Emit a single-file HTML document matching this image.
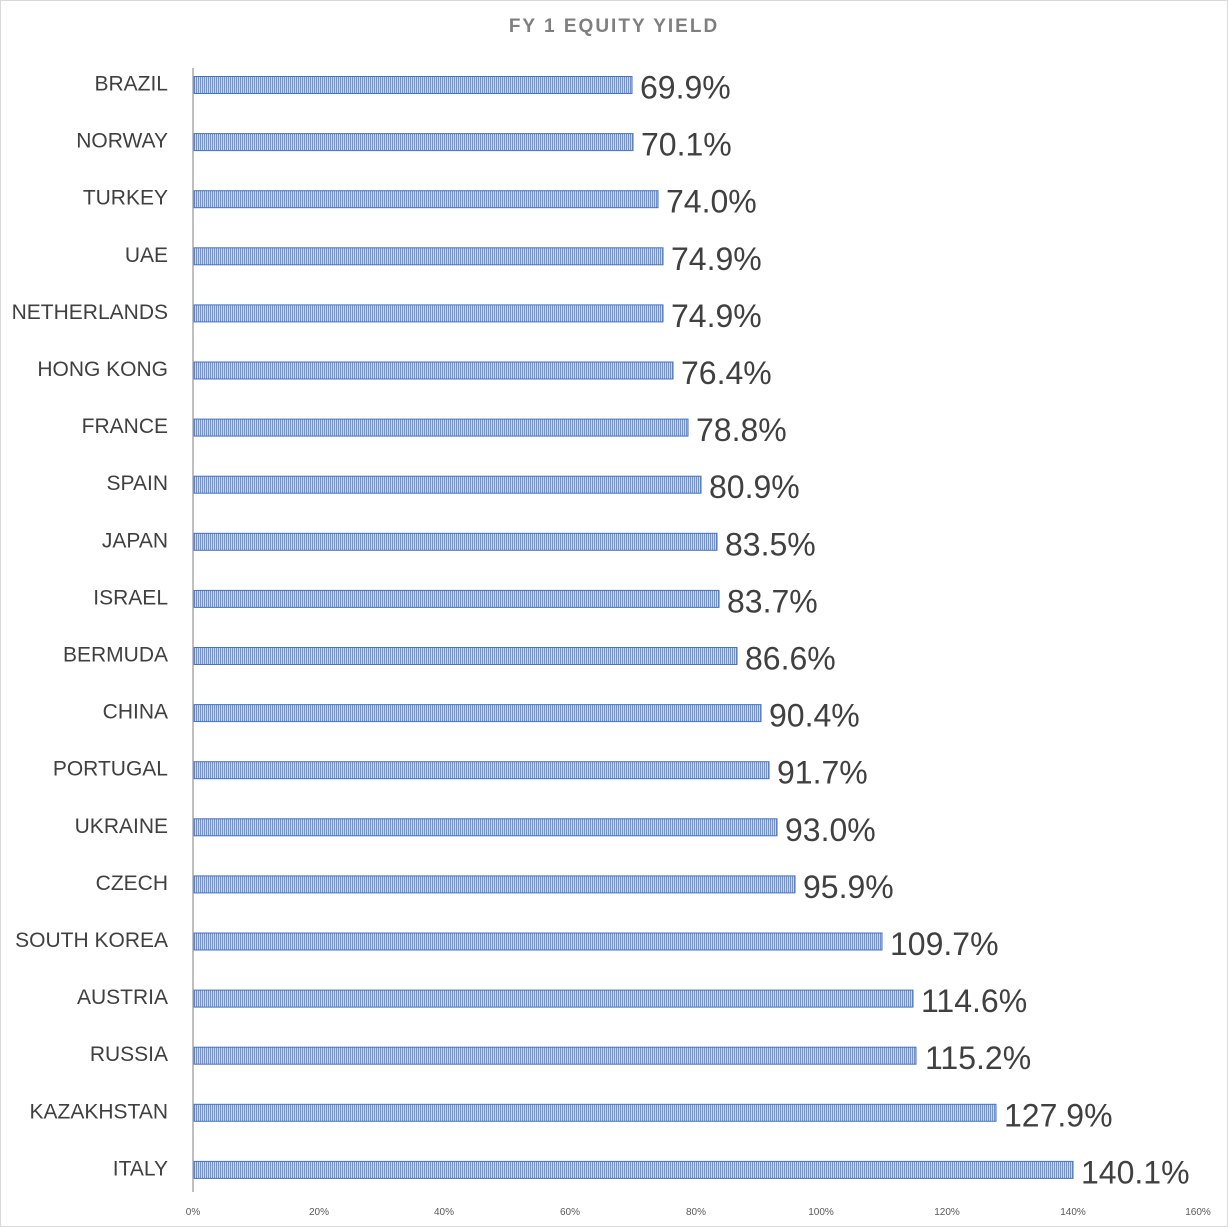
<!DOCTYPE html>
<html><head><meta charset="utf-8"><style>html,body{margin:0;padding:0;background:#fff}svg{display:block}</style></head>
<body>
<svg width="1228" height="1228" xmlns="http://www.w3.org/2000/svg" font-family="Liberation Sans, sans-serif">
<defs><pattern id="p" width="2" height="4" patternUnits="userSpaceOnUse"><rect width="2" height="4" fill="#c8d7f0"/><rect width="1" height="4" fill="#6b93d6"/></pattern></defs>
<rect x="0.5" y="0.5" width="1227" height="1226" fill="#fff" stroke="#d9d9d9"/>
<text x="614" y="32" text-anchor="middle" font-size="19" font-weight="bold" fill="#7f7f7f" letter-spacing="2">FY 1 EQUITY YIELD</text>
<line x1="193" y1="68" x2="193" y2="1192" stroke="#bfbfbf" stroke-width="2"/>
<g fill="url(#p)" stroke="#4472c4" stroke-width="1">
<rect x="194" y="76.5" width="438" height="17"/>
<rect x="194" y="133.6" width="439" height="17"/>
<rect x="194" y="190.7" width="464" height="17"/>
<rect x="194" y="247.8" width="469" height="17"/>
<rect x="194" y="304.9" width="469" height="17"/>
<rect x="194" y="362" width="479" height="17"/>
<rect x="194" y="419.1" width="494" height="17"/>
<rect x="194" y="476.2" width="507" height="17"/>
<rect x="194" y="533.3" width="523" height="17"/>
<rect x="194" y="590.4" width="525" height="17"/>
<rect x="194" y="647.5" width="543" height="17"/>
<rect x="194" y="704.6" width="567" height="17"/>
<rect x="194" y="761.7" width="575" height="17"/>
<rect x="194" y="818.8" width="583" height="17"/>
<rect x="194" y="875.9" width="601" height="17"/>
<rect x="194" y="933" width="688" height="17"/>
<rect x="194" y="990.1" width="719" height="17"/>
<rect x="194" y="1047.2" width="722" height="17"/>
<rect x="194" y="1104.3" width="802" height="17"/>
<rect x="194" y="1161.4" width="879" height="17"/>
</g>
<g font-size="21" fill="#404040" text-anchor="end" transform="translate(0,-2)">
<text x="168" y="92.5">BRAZIL</text>
<text x="168" y="149.6">NORWAY</text>
<text x="168" y="206.7">TURKEY</text>
<text x="168" y="263.8">UAE</text>
<text x="168" y="320.9">NETHERLANDS</text>
<text x="168" y="378">HONG KONG</text>
<text x="168" y="435.1">FRANCE</text>
<text x="168" y="492.2">SPAIN</text>
<text x="168" y="549.3">JAPAN</text>
<text x="168" y="606.4">ISRAEL</text>
<text x="168" y="663.5">BERMUDA</text>
<text x="168" y="720.6">CHINA</text>
<text x="168" y="777.7">PORTUGAL</text>
<text x="168" y="834.8">UKRAINE</text>
<text x="168" y="891.9">CZECH</text>
<text x="168" y="949">SOUTH KOREA</text>
<text x="168" y="1006.1">AUSTRIA</text>
<text x="168" y="1063.2">RUSSIA</text>
<text x="168" y="1120.3">KAZAKHSTAN</text>
<text x="168" y="1177.4">ITALY</text>
</g>
<g font-size="32" fill="#404040">
<text x="640" y="98.5">69.9%</text>
<text x="641" y="155.6">70.1%</text>
<text x="666" y="212.7">74.0%</text>
<text x="671" y="269.8">74.9%</text>
<text x="671" y="326.9">74.9%</text>
<text x="681" y="384">76.4%</text>
<text x="696" y="441.1">78.8%</text>
<text x="709" y="498.2">80.9%</text>
<text x="725" y="555.3">83.5%</text>
<text x="727" y="612.4">83.7%</text>
<text x="745" y="669.5">86.6%</text>
<text x="769" y="726.6">90.4%</text>
<text x="777" y="783.7">91.7%</text>
<text x="785" y="840.8">93.0%</text>
<text x="803" y="897.9">95.9%</text>
<text x="890" y="955">109.7%</text>
<text x="921" y="1012.1">114.6%</text>
<text x="925" y="1069.2">115.2%</text>
<text x="1004" y="1126.3">127.9%</text>
<text x="1081" y="1183.4">140.1%</text>
</g>
<g font-size="10" fill="#595959" text-anchor="middle">
<text x="193" y="1215">0%</text><text x="319" y="1215">20%</text><text x="444" y="1215">40%</text><text x="570" y="1215">60%</text><text x="696" y="1215">80%</text><text x="821" y="1215">100%</text><text x="947" y="1215">120%</text><text x="1073" y="1215">140%</text><text x="1198" y="1215">160%</text>
</g>
</svg>
</body></html>
